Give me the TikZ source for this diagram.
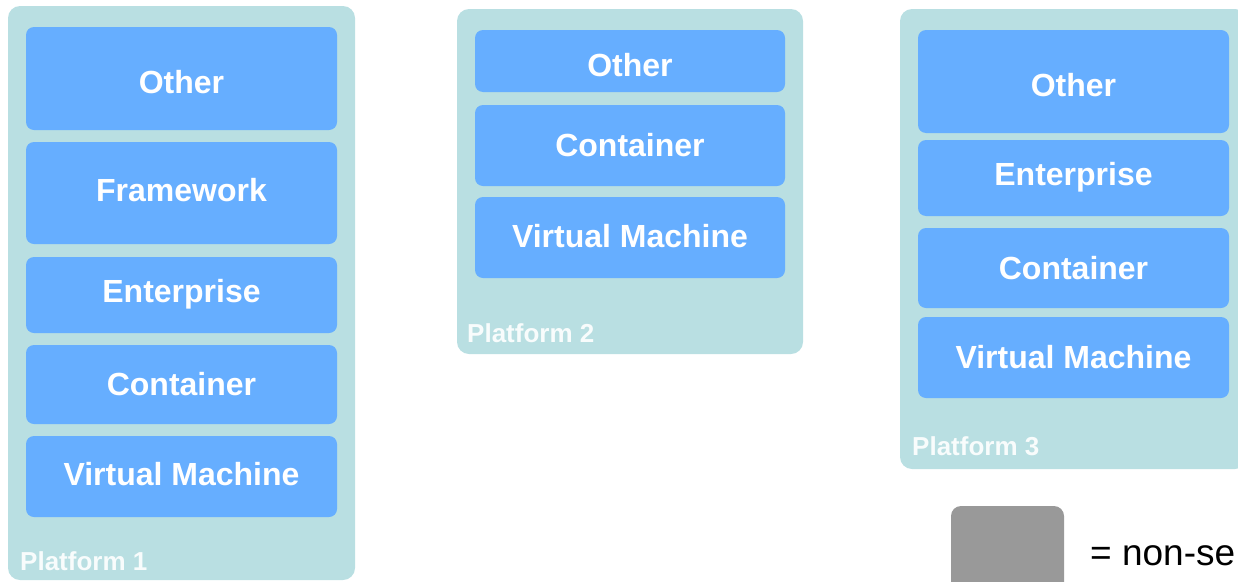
\documentclass[tikz,border=0pt]{standalone}
\usepackage{fontspec}
\setmainfont{Liberation Sans}
\definecolor{platfill}{HTML}{B9DFE2}
\definecolor{layerfill}{HTML}{66AEFF}
\definecolor{legendgray}{HTML}{999999}
\newcommand\shifttext[2]{\raisebox{#1}[\height][\depth]{#2}}
\tikzset{
  platform/.style={rectangle, rounded corners=12pt, fill=platfill, draw=none, inner sep=0pt},
  layer/.style={rectangle, rounded corners=8pt, fill=layerfill, draw=none, inner sep=0pt,
    text=white, font=\fontsize{32}{36}\selectfont\bfseries, minimum width=311pt},
  plabel/.style={anchor=base west, inner sep=0pt, text=white!90!platfill,
    font=\fontsize{26}{30}\selectfont\bfseries},
  legendbox/.style={rectangle, rounded corners=10pt, fill=legendgray, draw=none, inner sep=0pt},
  legendtext/.style={anchor=base west, inner sep=0pt, text=black, font=\fontsize{37}{40}\selectfont}
}
\begin{document}
\begin{tikzpicture}[x=1pt,y=-1pt]
\useasboundingbox (0,0) rectangle (1238,581);
\clip (0,0) rectangle (1238,581);
% Platform 1
\node[platform, minimum width=347pt, minimum height=574pt] (p1) at (181.5,293) {};
\node[layer, minimum height=103pt] (p1other) at (181.5,78.5) {\shifttext{-4pt}{Other}};
\node[layer, minimum height=102pt] (p1frame) at (181.5,193) {\shifttext{3pt}{Framework}};
\node[layer, minimum height=76pt] (p1ent) at (181.5,295) {\shifttext{1pt}{Enterprise}};
\node[layer, minimum height=79pt] (p1cont) at (181.5,384.5) {Container};
\node[layer, minimum height=81pt] (p1vm) at (181.5,476.5) {\shifttext{2pt}{Virtual Machine}};
\node[plabel] (p1lab) at (20,570) {Platform 1};
% Platform 2
\node[platform, minimum width=346pt, minimum height=345pt] (p2) at (630,181.5) {};
\node[layer, minimum width=310pt, minimum height=62pt] (p2other) at (630,61) {\shifttext{-4pt}{Other}};
\node[layer, minimum width=310pt, minimum height=81pt] (p2cont) at (630,145.5) {Container};
\node[layer, minimum width=310pt, minimum height=81pt] (p2vm) at (630,237.5) {\shifttext{1pt}{Virtual Machine}};
\node[plabel] (p2lab) at (467,342) {Platform 2};
% Platform 3
\node[platform, minimum width=347pt, minimum height=460pt] (p3) at (1073.5,239) {};
\node[layer, minimum height=103pt] (p3other) at (1073.5,81.5) {\shifttext{-4pt}{Other}};
\node[layer, minimum height=76pt] (p3ent) at (1073.5,178) {\shifttext{1pt}{Enterprise}};
\node[layer, minimum height=80pt] (p3cont) at (1073.5,268) {Container};
\node[layer, minimum height=81pt] (p3vm) at (1073.5,357.5) {Virtual Machine};
\node[plabel] (p3lab) at (912,455) {Platform 3};
% Legend
\node[legendbox, minimum width=113pt, minimum height=113pt] (leg) at (1007.5,562.5) {};
\node[legendtext] (legtext) at (1090,565) {= non-se};
\end{tikzpicture}
\end{document}
